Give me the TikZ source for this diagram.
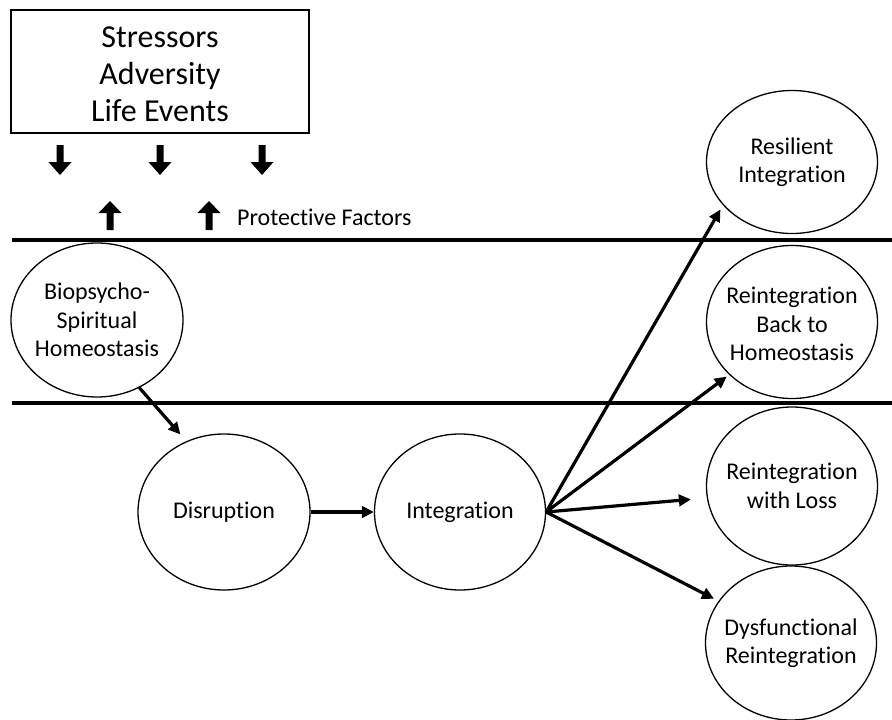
\documentclass[tikz,border=0pt]{standalone}
\usepackage{fontspec}
\setmainfont[Ligatures=NoCommon]{Carlito}
\usetikzlibrary{shapes.geometric,arrows.meta}

\tikzset{
  stage/.style={draw, line width=1.3pt, ellipse, inner sep=0pt},
  stagetext/.style={align=center, inner sep=0pt, font=\fontsize{24}{28.5}\selectfont},
  flow/.style={line width=3.2pt, -{Triangle[length=12pt,width=11.5pt]}},
  band/.style={line width=3.8pt},
  blockarrow/.style={fill=black, draw=none}
}

\begin{document}
\begin{tikzpicture}[x=1pt,y=-1pt]
  \useasboundingbox (0,0) rectangle (892,720);

  % external stressors box
  \node[draw, line width=1.3pt, minimum width=298pt, minimum height=123pt,
        label={[align=center, inner sep=0pt, yshift=-3pt,
                font=\fontsize{32}{37}\selectfont]center:Stressors\\Adversity\\Life Events}]
        (stress) at (160,71.5) {};

  % downward pressure arrows
  \foreach \x in {60,160,262}{
    \fill[blockarrow] (\x-3.5,145) -- (\x+3.5,145) -- (\x+3.5,162) -- (\x+11.5,162)
      -- (\x,175) -- (\x-11.5,162) -- (\x-3.5,162) -- cycle;
  }
  % upward protective arrows
  \foreach \x in {110,209}{
    \fill[blockarrow] (\x-3.5,230) -- (\x+3.5,230) -- (\x+3.5,213) -- (\x+11.5,213)
      -- (\x,201) -- (\x-11.5,213) -- (\x-3.5,213) -- cycle;
  }
  \node[anchor=west, inner sep=0pt, font=\fontsize{24}{29}\selectfont] (prot) at (237,217)
    {Protective Factors};

  % homeostasis band
  \coordinate (bandTL) at (12,240);
  \coordinate (bandTR) at (892,240);
  \coordinate (bandBL) at (12,403);
  \coordinate (bandBR) at (892,403);
  \draw[band] (bandTL) -- (bandTR);
  \draw[band] (bandBL) -- (bandBR);

  % stages
  \node[stage, minimum width=172pt, minimum height=154pt,
        label={[stagetext]center:Biopsycho-\\Spiritual\\Homeostasis}] (bio) at (97,320) {};
  \node[stage, minimum width=172pt, minimum height=156pt,
        label={[stagetext]center:Disruption}] (dis) at (224,512) {};
  \node[stage, minimum width=171pt, minimum height=156pt,
        label={[stagetext]center:Integration}] (int) at (460,512) {};

  % outcomes
  \node[stage, minimum width=171pt, minimum height=143pt,
        label={[stagetext]center:Resilient\\Integration}] (res) at (792,162) {};
  \node[stage, minimum width=171pt, minimum height=153pt,
        label={[stagetext, yshift=-2pt]center:Reintegration\\Back to\\Homeostasis}] (back) at (792,322) {};
  \node[stage, minimum width=171pt, minimum height=158pt,
        label={[stagetext]center:Reintegration\\with Loss}] (loss) at (792,486) {};
  \node[stage, minimum width=171pt, minimum height=154pt,
        label={[stagetext]center:Dysfunctional\\Reintegration}] (dys) at (791,643) {};

  % connectors
  \draw[flow, shorten >=9pt] (bio.-58) -- (dis.118);
  \draw[flow] (dis) -- (int);
  \draw[flow, shorten >=5pt] (int.east) -- (res.-148);
  \draw[flow, shorten >=3pt] (int.east) -- (back.-140);
  \draw[flow, shorten >=16pt] (int.east) -- (loss.-172);
  \draw[flow, shorten >=5pt] (int.east) -- (dys.150);
\end{tikzpicture}
\end{document}
